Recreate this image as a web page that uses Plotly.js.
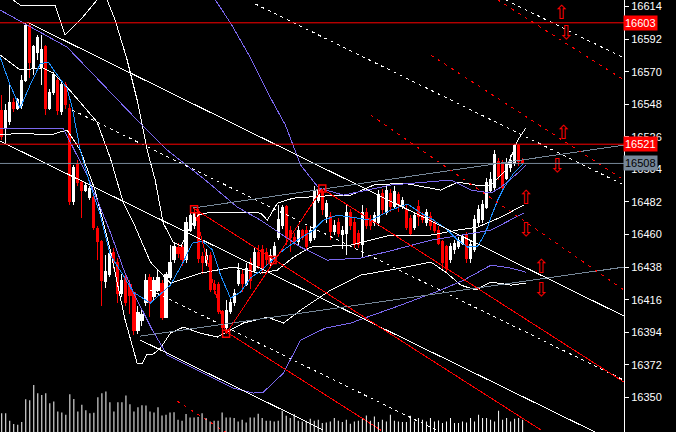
<!DOCTYPE html>
<html><head><meta charset="utf-8">
<script src="https://cdn.plot.ly/plotly-3.0.1.min.js"></script>
<style>html,body{margin:0;padding:0;background:#000;}#c{width:676px;height:432px;}
#c path.js-line{shape-rendering:crispEdges;}
#c .boxlayer path{shape-rendering:crispEdges;}
</style>
</head><body><div id="c"></div>
<script>
// ---- candle data (bar index = position in arrays) ----
const open = [16544,16532,16536,16549,16545,16547,16564,16601,16573,16583,
16573,16587,16545,16556,16564,16543,16561,16545,16482,16507,
16495,16490,16485,16485,16464,16455,16428,16433,16448,16441,
16420,16431,16426,16421,16395,16402,16414,16431,16418,16422,
16427,16404,16431,16443,16451,16451,16443,16463,16466,16475,
16445,16441,16446,16426,16426,16408,16397,16408,16414,16427,
16433,16426,16441,16436,16448,16450,16448,16441,16446,16458,
16466,16479,16463,16458,16455,16463,16463,16456,16458,16483,
16489,16472,16472,16462,16468,16460,16461,16475,16468,16461,
16453,16475,16470,16468,16468,16488,16475,16488,16479,16487,
16479,16477,16471,16465,16479,16473,16468,16472,16468,16463,
16455,16452,16443,16450,16452,16454,16460,16444,16450,16468,
16470,16478,16490,16492,16509,16508,16498,16505,16508,16520,16510];
const high = [16554,16548,16561,16552,16552,16568,16603,16603,16588,16595,
16595,16588,16558,16570,16566,16563,16563,16548,16507,16510,
16497,16495,16493,16487,16466,16456,16446,16449,16451,16444,
16433,16433,16429,16422,16412,16409,16433,16433,16431,16437,
16429,16435,16453,16454,16454,16453,16472,16475,16477,16477,
16448,16450,16448,16429,16428,16409,16416,16417,16423,16441,
16436,16441,16444,16451,16453,16453,16451,16450,16455,16480,
16480,16480,16466,16461,16466,16464,16466,16466,16493,16493,
16491,16483,16475,16470,16471,16466,16480,16477,16471,16463,
16480,16478,16473,16475,16490,16491,16493,16491,16493,16489,
16485,16480,16473,16475,16483,16475,16477,16475,16470,16466,
16456,16453,16454,16456,16458,16460,16462,16456,16473,16480,
16483,16498,16502,16517,16512,16510,16512,16514,16521,16521,16512];
const low = [16524,16522,16534,16543,16544,16545,16563,16566,16568,16578,
16561,16541,16544,16554,16541,16541,16545,16480,16480,16493,
16471,16489,16483,16463,16443,16412,16424,16431,16437,16414,
16418,16412,16406,16392,16393,16398,16412,16404,16416,16421,
16402,16404,16429,16441,16444,16439,16441,16462,16464,16441,
16433,16439,16421,16420,16406,16394,16393,16406,16412,16425,
16421,16425,16423,16434,16437,16433,16439,16439,16444,16456,
16464,16453,16448,16453,16453,16456,16450,16454,16456,16481,
16473,16468,16456,16460,16458,16450,16446,16463,16451,16451,
16444,16464,16463,16466,16466,16473,16473,16475,16477,16475,
16477,16463,16459,16463,16466,16468,16466,16463,16461,16453,
16436,16435,16441,16447,16450,16453,16441,16441,16448,16466,
16468,16477,16488,16490,16497,16490,16497,16502,16506,16506,16507];
const close = [16526,16544,16549,16545,16551,16564,16601,16576,16587,16593,
16585,16545,16556,16568,16544,16561,16548,16482,16505,16495,
16490,16493,16491,16465,16455,16429,16435,16447,16441,16420,
16429,16414,16419,16395,16407,16406,16429,16414,16429,16431,
16404,16433,16441,16452,16447,16443,16468,16473,16475,16444,
16441,16446,16423,16423,16408,16397,16409,16414,16420,16436,
16427,16437,16429,16448,16439,16438,16443,16446,16452,16470,
16478,16458,16458,16455,16463,16458,16452,16463,16490,16490,
16477,16481,16462,16466,16461,16463,16475,16466,16453,16453,
16475,16466,16466,16473,16487,16477,16490,16479,16489,16480,
16483,16465,16461,16473,16472,16470,16475,16466,16463,16454,
16441,16437,16452,16454,16456,16458,16444,16453,16470,16477,
16480,16495,16497,16514,16499,16492,16508,16510,16520,16509,16508];
const volume = [57,57,34,24,22,30,99,96,142,117,
112,117,87,92,62,59,52,114,100,62,
82,66,57,58,105,117,122,90,62,90,
90,110,84,62,75,81,80,62,59,75,
50,52,59,60,37,34,54,44,44,45,
57,42,32,34,34,59,44,44,42,32,
37,29,44,44,55,42,34,34,32,34,
64,49,42,54,34,32,34,40,34,37,
27,29,32,42,34,30,37,25,32,34,
40,50,34,47,30,37,32,52,34,32,
30,30,49,32,42,37,32,42,32,35,
27,32,42,27,27,32,29,42,32,52,
42,42,37,32,64,37,42,32,40,42,37];

// ---- price axis ----
const yTicks = [16350,16372,16394,16416,16438,16460,16482,16504,16526,16548,16570,16592,16614];
const yRange = [16326.6, 16618.4];
const xRange = [-0.43, 155.3];

// ---- horizontal levels and their right-hand labels ----
const levelPrices = [16603, 16521, 16508];
const levelLabels = ['16603', '16521', '16508'];

// ---- indicator curves (bar index, price) ----
const maIdx = [-0.4,2.1,4.6,7.1,9.6,11.6,13.3,16.3,17.6,19.6,22.1,24.6,27.1,30.3,32.8,37.1,42.1,45.3,47.6,50.1,52.6,54.6,57.1,59.6,62.1,65.1,70.3,73.8,77.8,80.3,83.8,87.1,92.1,97.1,101.3,104.6,107.8,111.3,113.8,116.3,118.8,120.8,122.1,123.8,125.3,127.8,130.3];
const maVal = [16579.9,16561.0,16545.4,16561.0,16575.2,16576.5,16569.8,16558.9,16545.4,16517.0,16493.4,16473.1,16446.1,16432.6,16421.1,16413.7,16425.8,16441.4,16454.2,16455.6,16449.5,16432.6,16417.0,16421.1,16430.6,16436.6,16449.5,16456.2,16463.0,16469.7,16473.1,16471.8,16469.7,16476.5,16480.6,16474.5,16469.7,16463.0,16456.2,16451.5,16452.2,16461.6,16471.8,16483.3,16491.4,16501.5,16508.3];

const purpleMidIdx = [-0.4,16.3,33.3,41.3,50.8,58.8,64.6,74.6,81.3,89.6,97.8,107.1,117.8,122.1,130.3];
const purpleMidVal = [16611.6,16586.6,16538.7,16517.0,16496.8,16478.5,16469.7,16451.5,16442.7,16444.1,16449.5,16456.2,16461.0,16463.0,16474.5];
const purpleLowIdx = [-0.4,15.3,21.3,27.1,30.3,32.8,37.6,41.3,47.8,57.8,62.8,65.3,70.3,74.6,80.8,87.1,99.6,109.6,115.3,122.1,127.1,130.8];
const purpleLowVal = [16531.9,16531.9,16500.2,16461.6,16437.3,16421.1,16395.4,16378.5,16369.7,16356.2,16352.9,16353.5,16366.4,16388.7,16396.8,16400.2,16412.3,16422.5,16429.2,16439.3,16437.3,16434.6];
const purpleUpIdx = [53.3,57.1,62.1,67.1,70.8,74.6,79.1,85.3,97.1,112.1,117.1,122.1,124.6,128.8,130.8];
const purpleUpVal = [16618.4,16602.9,16579.2,16552.2,16533.9,16506.9,16491.4,16486.6,16493.4,16496.8,16490.0,16488.0,16492.0,16501.5,16506.9];

const whiteUpIdx = [2.8,4.6,13.3,15.8,19.6,23.8,25.1,26.3,28.3,31.3,33.8,36.3,38.3,40.3,42.8,44.8,46.6,49.0,52.1,59.6,64.6,66.3,68.8,72.8,79.6,87.1,92.8,100.3,109.6,113.8,118.3,122.1,125.8,128.8,130.8];
const whiteUpVal = [16618.4,16615.0,16615.0,16594.8,16604.9,16618.4,16625.2,16618.4,16604.9,16577.9,16550.8,16517.0,16496.8,16467.7,16454.9,16452.2,16463.0,16473.1,16475.1,16474.5,16474.5,16469.7,16481.2,16484.6,16485.9,16486.6,16493.4,16494.7,16490.0,16495.4,16493.4,16493.4,16503.5,16523.8,16531.9];
const whiteMidIdx = [-0.4,4.6,10.3,12.8,16.3,19.6,23.8,27.1,30.3,32.8,37.1,42.1,49.6,57.8,64.6,68.8,72.8,77.1,87.1,97.1,107.1,113.8,118.8,124.6,130.3];
const whiteMidVal = [16581.2,16571.1,16572.5,16569.1,16559.6,16549.5,16536.0,16511.6,16481.9,16468.4,16441.4,16427.2,16433.9,16438.0,16433.9,16436.0,16444.7,16451.5,16452.9,16459.6,16459.6,16463.0,16465.0,16471.8,16479.9];
const whiteLowIdx = [-0.4,4.6,12.1,16.3,19.6,23.3,27.1,30.8,33.8,35.1,36.3,37.8,39.6,42.1,45.3,49.6,53.8,60.3,66.3,70.3,74.6,82.1,89.6,99.6,107.1,110.8,114.6,118.3,122.1,127.1,130.8];
const whiteLowVal = [16527.2,16528.5,16527.2,16530.6,16517.0,16490.0,16449.5,16402.2,16373.1,16373.1,16379.2,16379.2,16383.3,16393.4,16397.4,16393.4,16390.7,16400.2,16404.2,16400.2,16408.9,16422.5,16432.6,16437.3,16441.4,16434.6,16425.8,16422.5,16427.9,16425.8,16427.2];

// ---- trend lines: [x0, price0, x1, price1] ----
const whiteSolid1 = [6.3, 16603.5, 155.3, 16404.9];
const whiteSolid2 = [-0.4, 16523.1, 155.3, 16317.0];
const whiteSolid3 = [34.6, 16388.7, 80.3, 16327.9];
const whiteDash1 = [17.6, 16544.1, 155.3, 16361.6];
const whiteDash2 = [63.3, 16615.7, 155.3, 16493.4];
const whiteDash3 = [125.8, 16618.4, 155.3, 16579.2];
const whiteDash4 = [37.1, 16422.5, 155.3, 16265.7];
const grayLine1 = [47.8, 16477.9, 155.3, 16520.4];
const grayLine2 = [34.6, 16391.4, 155.3, 16438.0];
const redSolid1 = [47.8, 16477.9, 134.6, 16327.9];
const redSolid2 = [55.8, 16394.7, 94.6, 16327.9];
const redSolid3 = [80.1, 16490.7, 155.3, 16360.3];
const redDash1 = [92.1, 16540.7, 155.3, 16422.5];
const redDash2 = [107.1, 16581.2, 155.3, 16496.8];
const redDash3 = [123.8, 16618.4, 155.3, 16564.3];
const redDash4 = [43.8, 16347.4, 57.1, 16324.5];

// zigzag swing points
const zigIdx = [48, 56, 80];
const zigVal = [16477, 16393, 16491];
const squareIdx = [48, 56, 67.6, 80];
const squareVal = [16477, 16393, 16442.7, 16491];

// arrow objects
const arrowIdx = [139.6, 140.8, 140.1, 138.6, 130.8, 130.8, 134.6, 134.6];
const arrowVal = [16609.0, 16595.5, 16527.5, 16505.5, 16483.5, 16462.0, 16437.5, 16421.5];
const arrowSym = ['⇧','⇩','⇧','⇩','⇧','⇩','⇧','⇩'];

// ---------------------------------------------------------
const X = close.map((_, i) => i);
const RED = '#ff0000', WHITE = '#ffffff', BLUE = '#1e90ff', PURPLE = '#7b68ee', GRAY = '#778899';

function seg(a, color, dash) {
  return {type:'scatter', mode:'lines', x:[a[0], a[2]], y:[a[1], a[3]],
          line:{color:color, width:1, dash:dash || 'solid'}, hoverinfo:'skip'};
}
function curve(xs, ys, color) {
  return {type:'scatter', mode:'lines', x:xs, y:ys, line:{color:color, width:1}, hoverinfo:'skip'};
}

const traces = [];
traces.push({type:'bar', x:X, y:volume, yaxis:'y2', width:0.25,
  marker:{color:WHITE, line:{width:0}}, hoverinfo:'skip'});
traces.push({type:'candlestick', x:X, open:open, high:high, low:low, close:close,
  increasing:{line:{color:WHITE, width:1}, fillcolor:WHITE},
  decreasing:{line:{color:RED, width:1}, fillcolor:RED},
  whiskerwidth:0, hoverinfo:'skip'});

traces.push(curve(whiteUpIdx, whiteUpVal, WHITE));
traces.push(curve(whiteMidIdx, whiteMidVal, WHITE));
traces.push(curve(whiteLowIdx, whiteLowVal, WHITE));
traces.push(curve(purpleUpIdx, purpleUpVal, PURPLE));
traces.push(curve(purpleMidIdx, purpleMidVal, PURPLE));
traces.push(curve(purpleLowIdx, purpleLowVal, PURPLE));
traces.push(curve(maIdx, maVal, BLUE));

[whiteSolid1, whiteSolid2, whiteSolid3].forEach(a => traces.push(seg(a, WHITE)));
[whiteDash1, whiteDash2, whiteDash3, whiteDash4].forEach(a => traces.push(seg(a, WHITE, '3px,4px')));
[grayLine1, grayLine2].forEach(a => traces.push(seg(a, GRAY)));
[redSolid1, redSolid2, redSolid3].forEach(a => traces.push(seg(a, RED)));
[redDash1, redDash2, redDash3, redDash4].forEach(a => traces.push(seg(a, RED, '3px,5px')));

traces.push({type:'scatter', mode:'lines', x:zigIdx, y:zigVal, line:{color:RED, width:1}, hoverinfo:'skip'});
traces.push({type:'scatter', mode:'markers', x:squareIdx, y:squareVal,
  marker:{symbol:'square-open', size:7, color:RED, line:{width:1.5, color:RED}}, hoverinfo:'skip'});
traces.push({type:'scatter', mode:'text', x:arrowIdx, y:arrowVal, text:arrowSym,
  textfont:{color:RED, size:19, family:'DejaVu Sans'}, textposition:'middle center', hoverinfo:'skip'});

const levelColors = [RED, RED, GRAY];
const labelText = ['#ffffff', '#ffffff', '#000000'];
const shapes = levelPrices.map((p, k) => ({type:'line', xref:'paper', x0:0, x1:1, yref:'y', y0:p, y1:p,
  line:{color:levelColors[k], width:1}, layer:'above'}));
const annotations = levelPrices.map((p, k) => ({xref:'paper', x:1, xanchor:'left', xshift:-1,
  yref:'y', y:p, yanchor:'middle', text:levelLabels[k], showarrow:false,
  bgcolor:levelColors[k], borderpad:1, font:{color:labelText[k], size:11, family:'Liberation Sans, Arial'}}));

const layout = {
  width:676, height:432, margin:{l:0, r:52, t:0, b:0},
  paper_bgcolor:'#000', plot_bgcolor:'#000', showlegend:false,
  xaxis:{range:xRange, visible:false, rangeslider:{visible:false}, fixedrange:true},
  yaxis:{range:yRange, side:'right', showgrid:false, zeroline:false, showline:true,
    linecolor:WHITE, linewidth:1, ticks:'outside', ticklen:4, tickcolor:WHITE,
    tickvals:yTicks, ticktext:yTicks.map(String),
    tickfont:{color:WHITE, size:11, family:'Liberation Sans, Arial'}, fixedrange:true},
  yaxis2:{overlaying:'y', range:[0, 1305], visible:false, fixedrange:true},
  shapes:shapes, annotations:annotations, boxgap:0.25
};
Plotly.newPlot('c', traces, layout, {staticPlot:true, displayModeBar:false});
</script></body></html>
